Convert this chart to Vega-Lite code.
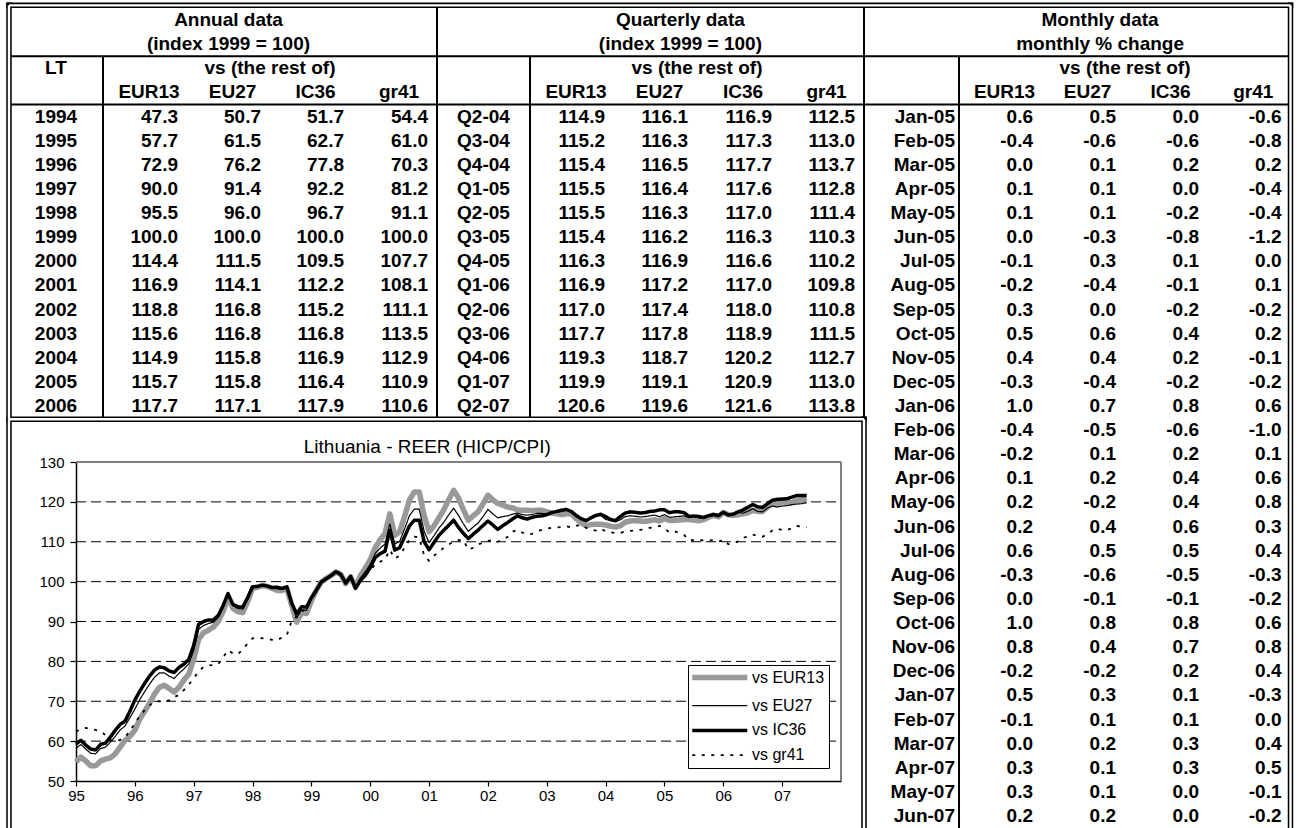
{
"$schema": "https://vega.github.io/schema/vega-lite/v6.json",
"width": 1297, "height": 828, "padding": 0,
"autosize": {"type": "none"},
"background": "white",
"config": {"view": {"stroke": null}, "font": "Liberation Sans"},
"datasets": {
"rules1": [
{"c1":0,"c2":15,"r1":1.5,"r2":1.5},
{"c1":0,"c2":15,"r1":3.5,"r2":3.5},
{"c1":1,"c2":1,"r1":1.5,"r2":16.55},
{"c1":5,"c2":5,"r1":-0.61,"r2":16.55},
{"c1":6,"c2":6,"r1":1.5,"r2":16.55},
{"c1":10,"c2":10,"r1":-0.61,"r2":16.55},
{"c1":11,"c2":11,"r1":1.5,"r2":34}
],
"rules2": [
{"c1":0,"c2":15,"r1":-0.61,"r2":-0.61},
{"c1":0,"c2":0,"r1":-0.61,"r2":34},
{"c1":15,"c2":15,"r1":-0.61,"r2":34},
{"c1":0,"c2":10,"r1":16.55,"r2":16.55},
{"c1":10,"c2":10,"r1":16.55,"r2":34}
],
"titles": [
{"r":0,"c":2.5,"t":"Annual data"},{"r":1,"c":2.5,"t":"(index 1999 = 100)"},
{"r":0,"c":7.8,"t":"Quarterly data"},{"r":1,"c":7.8,"t":"(index 1999 = 100)"},
{"r":0,"c":12.7,"t":"Monthly data"},{"r":1,"c":12.7,"t":"monthly % change"},
{"r":2,"c":0.5,"t":"LT"},
{"r":2,"c":3,"t":"vs (the rest of)"},{"r":2,"c":8,"t":"vs (the rest of)"},{"r":2,"c":13,"t":"vs (the rest of)"}
],
"heads": [
{"r":3,"c":1.5,"t":"EUR13"},{"r":3,"c":2.5,"t":"EU27"},{"r":3,"c":3.5,"t":"IC36"},{"r":3,"c":4.5,"t":"gr41"},
{"r":3,"c":6.5,"t":"EUR13"},{"r":3,"c":7.5,"t":"EU27"},{"r":3,"c":8.5,"t":"IC36"},{"r":3,"c":9.5,"t":"gr41"},
{"r":3,"c":11.5,"t":"EUR13"},{"r":3,"c":12.5,"t":"EU27"},{"r":3,"c":13.5,"t":"IC36"},{"r":3,"c":14.5,"t":"gr41"}
],
"clabs": [
{"r":4,"c":0.5,"t":"1994"},{"r":5,"c":0.5,"t":"1995"},{"r":6,"c":0.5,"t":"1996"},{"r":7,"c":0.5,"t":"1997"},{"r":8,"c":0.5,"t":"1998"},{"r":9,"c":0.5,"t":"1999"},{"r":10,"c":0.5,"t":"2000"},{"r":11,"c":0.5,"t":"2001"},{"r":12,"c":0.5,"t":"2002"},{"r":13,"c":0.5,"t":"2003"},{"r":14,"c":0.5,"t":"2004"},{"r":15,"c":0.5,"t":"2005"},{"r":16,"c":0.5,"t":"2006"},
{"r":4,"c":5.5,"t":"Q2-04"},{"r":5,"c":5.5,"t":"Q3-04"},{"r":6,"c":5.5,"t":"Q4-04"},{"r":7,"c":5.5,"t":"Q1-05"},{"r":8,"c":5.5,"t":"Q2-05"},{"r":9,"c":5.5,"t":"Q3-05"},{"r":10,"c":5.5,"t":"Q4-05"},{"r":11,"c":5.5,"t":"Q1-06"},{"r":12,"c":5.5,"t":"Q2-06"},{"r":13,"c":5.5,"t":"Q3-06"},{"r":14,"c":5.5,"t":"Q4-06"},{"r":15,"c":5.5,"t":"Q1-07"},{"r":16,"c":5.5,"t":"Q2-07"}
],
"rlabs": [
{"r":4,"c":11,"t":"Jan-05"},{"r":5,"c":11,"t":"Feb-05"},{"r":6,"c":11,"t":"Mar-05"},{"r":7,"c":11,"t":"Apr-05"},{"r":8,"c":11,"t":"May-05"},{"r":9,"c":11,"t":"Jun-05"},{"r":10,"c":11,"t":"Jul-05"},{"r":11,"c":11,"t":"Aug-05"},{"r":12,"c":11,"t":"Sep-05"},{"r":13,"c":11,"t":"Oct-05"},{"r":14,"c":11,"t":"Nov-05"},{"r":15,"c":11,"t":"Dec-05"},
{"r":16,"c":11,"t":"Jan-06"},{"r":17,"c":11,"t":"Feb-06"},{"r":18,"c":11,"t":"Mar-06"},{"r":19,"c":11,"t":"Apr-06"},{"r":20,"c":11,"t":"May-06"},{"r":21,"c":11,"t":"Jun-06"},{"r":22,"c":11,"t":"Jul-06"},{"r":23,"c":11,"t":"Aug-06"},{"r":24,"c":11,"t":"Sep-06"},{"r":25,"c":11,"t":"Oct-06"},{"r":26,"c":11,"t":"Nov-06"},{"r":27,"c":11,"t":"Dec-06"},
{"r":28,"c":11,"t":"Jan-07"},{"r":29,"c":11,"t":"Feb-07"},{"r":30,"c":11,"t":"Mar-07"},{"r":31,"c":11,"t":"Apr-07"},{"r":32,"c":11,"t":"May-07"},{"r":33,"c":11,"t":"Jun-07"}
],
"vals": [
{"r":4,"c":2,"t":"47.3"},{"r":4,"c":3,"t":"50.7"},{"r":4,"c":4,"t":"51.7"},{"r":4,"c":5,"t":"54.4"},
{"r":5,"c":2,"t":"57.7"},{"r":5,"c":3,"t":"61.5"},{"r":5,"c":4,"t":"62.7"},{"r":5,"c":5,"t":"61.0"},
{"r":6,"c":2,"t":"72.9"},{"r":6,"c":3,"t":"76.2"},{"r":6,"c":4,"t":"77.8"},{"r":6,"c":5,"t":"70.3"},
{"r":7,"c":2,"t":"90.0"},{"r":7,"c":3,"t":"91.4"},{"r":7,"c":4,"t":"92.2"},{"r":7,"c":5,"t":"81.2"},
{"r":8,"c":2,"t":"95.5"},{"r":8,"c":3,"t":"96.0"},{"r":8,"c":4,"t":"96.7"},{"r":8,"c":5,"t":"91.1"},
{"r":9,"c":2,"t":"100.0"},{"r":9,"c":3,"t":"100.0"},{"r":9,"c":4,"t":"100.0"},{"r":9,"c":5,"t":"100.0"},
{"r":10,"c":2,"t":"114.4"},{"r":10,"c":3,"t":"111.5"},{"r":10,"c":4,"t":"109.5"},{"r":10,"c":5,"t":"107.7"},
{"r":11,"c":2,"t":"116.9"},{"r":11,"c":3,"t":"114.1"},{"r":11,"c":4,"t":"112.2"},{"r":11,"c":5,"t":"108.1"},
{"r":12,"c":2,"t":"118.8"},{"r":12,"c":3,"t":"116.8"},{"r":12,"c":4,"t":"115.2"},{"r":12,"c":5,"t":"111.1"},
{"r":13,"c":2,"t":"115.6"},{"r":13,"c":3,"t":"116.8"},{"r":13,"c":4,"t":"116.8"},{"r":13,"c":5,"t":"113.5"},
{"r":14,"c":2,"t":"114.9"},{"r":14,"c":3,"t":"115.8"},{"r":14,"c":4,"t":"116.9"},{"r":14,"c":5,"t":"112.9"},
{"r":15,"c":2,"t":"115.7"},{"r":15,"c":3,"t":"115.8"},{"r":15,"c":4,"t":"116.4"},{"r":15,"c":5,"t":"110.9"},
{"r":16,"c":2,"t":"117.7"},{"r":16,"c":3,"t":"117.1"},{"r":16,"c":4,"t":"117.9"},{"r":16,"c":5,"t":"110.6"},
{"r":4,"c":7,"t":"114.9"},{"r":4,"c":8,"t":"116.1"},{"r":4,"c":9,"t":"116.9"},{"r":4,"c":10,"t":"112.5"},
{"r":5,"c":7,"t":"115.2"},{"r":5,"c":8,"t":"116.3"},{"r":5,"c":9,"t":"117.3"},{"r":5,"c":10,"t":"113.0"},
{"r":6,"c":7,"t":"115.4"},{"r":6,"c":8,"t":"116.5"},{"r":6,"c":9,"t":"117.7"},{"r":6,"c":10,"t":"113.7"},
{"r":7,"c":7,"t":"115.5"},{"r":7,"c":8,"t":"116.4"},{"r":7,"c":9,"t":"117.6"},{"r":7,"c":10,"t":"112.8"},
{"r":8,"c":7,"t":"115.5"},{"r":8,"c":8,"t":"116.3"},{"r":8,"c":9,"t":"117.0"},{"r":8,"c":10,"t":"111.4"},
{"r":9,"c":7,"t":"115.4"},{"r":9,"c":8,"t":"116.2"},{"r":9,"c":9,"t":"116.3"},{"r":9,"c":10,"t":"110.3"},
{"r":10,"c":7,"t":"116.3"},{"r":10,"c":8,"t":"116.9"},{"r":10,"c":9,"t":"116.6"},{"r":10,"c":10,"t":"110.2"},
{"r":11,"c":7,"t":"116.9"},{"r":11,"c":8,"t":"117.2"},{"r":11,"c":9,"t":"117.0"},{"r":11,"c":10,"t":"109.8"},
{"r":12,"c":7,"t":"117.0"},{"r":12,"c":8,"t":"117.4"},{"r":12,"c":9,"t":"118.0"},{"r":12,"c":10,"t":"110.8"},
{"r":13,"c":7,"t":"117.7"},{"r":13,"c":8,"t":"117.8"},{"r":13,"c":9,"t":"118.9"},{"r":13,"c":10,"t":"111.5"},
{"r":14,"c":7,"t":"119.3"},{"r":14,"c":8,"t":"118.7"},{"r":14,"c":9,"t":"120.2"},{"r":14,"c":10,"t":"112.7"},
{"r":15,"c":7,"t":"119.9"},{"r":15,"c":8,"t":"119.1"},{"r":15,"c":9,"t":"120.9"},{"r":15,"c":10,"t":"113.0"},
{"r":16,"c":7,"t":"120.6"},{"r":16,"c":8,"t":"119.6"},{"r":16,"c":9,"t":"121.6"},{"r":16,"c":10,"t":"113.8"},
{"r":4,"c":12,"t":"0.6"},{"r":4,"c":13,"t":"0.5"},{"r":4,"c":14,"t":"0.0"},{"r":4,"c":15,"t":"-0.6"},
{"r":5,"c":12,"t":"-0.4"},{"r":5,"c":13,"t":"-0.6"},{"r":5,"c":14,"t":"-0.6"},{"r":5,"c":15,"t":"-0.8"},
{"r":6,"c":12,"t":"0.0"},{"r":6,"c":13,"t":"0.1"},{"r":6,"c":14,"t":"0.2"},{"r":6,"c":15,"t":"0.2"},
{"r":7,"c":12,"t":"0.1"},{"r":7,"c":13,"t":"0.1"},{"r":7,"c":14,"t":"0.0"},{"r":7,"c":15,"t":"-0.4"},
{"r":8,"c":12,"t":"0.1"},{"r":8,"c":13,"t":"0.1"},{"r":8,"c":14,"t":"-0.2"},{"r":8,"c":15,"t":"-0.4"},
{"r":9,"c":12,"t":"0.0"},{"r":9,"c":13,"t":"-0.3"},{"r":9,"c":14,"t":"-0.8"},{"r":9,"c":15,"t":"-1.2"},
{"r":10,"c":12,"t":"-0.1"},{"r":10,"c":13,"t":"0.3"},{"r":10,"c":14,"t":"0.1"},{"r":10,"c":15,"t":"0.0"},
{"r":11,"c":12,"t":"-0.2"},{"r":11,"c":13,"t":"-0.4"},{"r":11,"c":14,"t":"-0.1"},{"r":11,"c":15,"t":"0.1"},
{"r":12,"c":12,"t":"0.3"},{"r":12,"c":13,"t":"0.0"},{"r":12,"c":14,"t":"-0.2"},{"r":12,"c":15,"t":"-0.2"},
{"r":13,"c":12,"t":"0.5"},{"r":13,"c":13,"t":"0.6"},{"r":13,"c":14,"t":"0.4"},{"r":13,"c":15,"t":"0.2"},
{"r":14,"c":12,"t":"0.4"},{"r":14,"c":13,"t":"0.4"},{"r":14,"c":14,"t":"0.2"},{"r":14,"c":15,"t":"-0.1"},
{"r":15,"c":12,"t":"-0.3"},{"r":15,"c":13,"t":"-0.4"},{"r":15,"c":14,"t":"-0.2"},{"r":15,"c":15,"t":"-0.2"},
{"r":16,"c":12,"t":"1.0"},{"r":16,"c":13,"t":"0.7"},{"r":16,"c":14,"t":"0.8"},{"r":16,"c":15,"t":"0.6"},
{"r":17,"c":12,"t":"-0.4"},{"r":17,"c":13,"t":"-0.5"},{"r":17,"c":14,"t":"-0.6"},{"r":17,"c":15,"t":"-1.0"},
{"r":18,"c":12,"t":"-0.2"},{"r":18,"c":13,"t":"0.1"},{"r":18,"c":14,"t":"0.2"},{"r":18,"c":15,"t":"0.1"},
{"r":19,"c":12,"t":"0.1"},{"r":19,"c":13,"t":"0.2"},{"r":19,"c":14,"t":"0.4"},{"r":19,"c":15,"t":"0.6"},
{"r":20,"c":12,"t":"0.2"},{"r":20,"c":13,"t":"-0.2"},{"r":20,"c":14,"t":"0.4"},{"r":20,"c":15,"t":"0.8"},
{"r":21,"c":12,"t":"0.2"},{"r":21,"c":13,"t":"0.4"},{"r":21,"c":14,"t":"0.6"},{"r":21,"c":15,"t":"0.3"},
{"r":22,"c":12,"t":"0.6"},{"r":22,"c":13,"t":"0.5"},{"r":22,"c":14,"t":"0.5"},{"r":22,"c":15,"t":"0.4"},
{"r":23,"c":12,"t":"-0.3"},{"r":23,"c":13,"t":"-0.6"},{"r":23,"c":14,"t":"-0.5"},{"r":23,"c":15,"t":"-0.3"},
{"r":24,"c":12,"t":"0.0"},{"r":24,"c":13,"t":"-0.1"},{"r":24,"c":14,"t":"-0.1"},{"r":24,"c":15,"t":"-0.2"},
{"r":25,"c":12,"t":"1.0"},{"r":25,"c":13,"t":"0.8"},{"r":25,"c":14,"t":"0.8"},{"r":25,"c":15,"t":"0.6"},
{"r":26,"c":12,"t":"0.8"},{"r":26,"c":13,"t":"0.4"},{"r":26,"c":14,"t":"0.7"},{"r":26,"c":15,"t":"0.8"},
{"r":27,"c":12,"t":"-0.2"},{"r":27,"c":13,"t":"-0.2"},{"r":27,"c":14,"t":"0.2"},{"r":27,"c":15,"t":"0.4"},
{"r":28,"c":12,"t":"0.5"},{"r":28,"c":13,"t":"0.3"},{"r":28,"c":14,"t":"0.1"},{"r":28,"c":15,"t":"-0.3"},
{"r":29,"c":12,"t":"-0.1"},{"r":29,"c":13,"t":"0.1"},{"r":29,"c":14,"t":"0.1"},{"r":29,"c":15,"t":"0.0"},
{"r":30,"c":12,"t":"0.0"},{"r":30,"c":13,"t":"0.2"},{"r":30,"c":14,"t":"0.3"},{"r":30,"c":15,"t":"0.4"},
{"r":31,"c":12,"t":"0.3"},{"r":31,"c":13,"t":"0.1"},{"r":31,"c":14,"t":"0.3"},{"r":31,"c":15,"t":"0.5"},
{"r":32,"c":12,"t":"0.3"},{"r":32,"c":13,"t":"0.1"},{"r":32,"c":14,"t":"0.0"},{"r":32,"c":15,"t":"-0.1"},
{"r":33,"c":12,"t":"0.2"},{"r":33,"c":13,"t":"0.2"},{"r":33,"c":14,"t":"0.0"},{"r":33,"c":15,"t":"-0.2"}
],
"reer": [
{"t":1995.000,"EUR13":54.8,"EU27":58.2,"IC36":59.3,"gr41":62.4},
{"t":1995.083,"EUR13":56.0,"EU27":59.15,"IC36":60.2,"gr41":63.0},
{"t":1995.167,"EUR13":55.0,"EU27":58.0,"IC36":59.0,"gr41":63.3},
{"t":1995.250,"EUR13":53.8,"EU27":56.95,"IC36":58.0,"gr41":63.0},
{"t":1995.333,"EUR13":53.8,"EU27":56.8,"IC36":57.8,"gr41":62.8},
{"t":1995.417,"EUR13":55.0,"EU27":58.15,"IC36":59.2,"gr41":62.5},
{"t":1995.500,"EUR13":55.5,"EU27":58.5,"IC36":59.5,"gr41":61.5},
{"t":1995.583,"EUR13":55.8,"EU27":59.7,"IC36":61.0,"gr41":60.3},
{"t":1995.667,"EUR13":56.8,"EU27":61.2,"IC36":62.7,"gr41":59.8},
{"t":1995.750,"EUR13":58.5,"EU27":62.8,"IC36":64.2,"gr41":60.3},
{"t":1995.833,"EUR13":60.2,"EU27":63.8,"IC36":65.0,"gr41":61.0},
{"t":1995.917,"EUR13":61.2,"EU27":65.9,"IC36":67.5,"gr41":62.5},
{"t":1996.000,"EUR13":62.7,"EU27":68.0,"IC36":70.3,"gr41":64.5},
{"t":1996.083,"EUR13":65.5,"EU27":70.4,"IC36":72.5,"gr41":66.2},
{"t":1996.167,"EUR13":67.5,"EU27":72.4,"IC36":74.5,"gr41":67.8},
{"t":1996.250,"EUR13":69.5,"EU27":74.3,"IC36":76.3,"gr41":69.0},
{"t":1996.333,"EUR13":71.8,"EU27":76.0,"IC36":77.8,"gr41":69.9},
{"t":1996.417,"EUR13":73.5,"EU27":77.1,"IC36":78.6,"gr41":70.0},
{"t":1996.500,"EUR13":74.0,"EU27":77.1,"IC36":78.4,"gr41":69.9},
{"t":1996.583,"EUR13":73.2,"EU27":76.3,"IC36":77.6,"gr41":70.2},
{"t":1996.667,"EUR13":72.3,"EU27":75.7,"IC36":77.2,"gr41":71.0},
{"t":1996.750,"EUR13":73.5,"EU27":77.0,"IC36":78.5,"gr41":71.6},
{"t":1996.833,"EUR13":75.3,"EU27":78.1,"IC36":79.3,"gr41":72.8},
{"t":1996.917,"EUR13":76.8,"EU27":79.4,"IC36":80.5,"gr41":74.2},
{"t":1997.000,"EUR13":80.5,"EU27":82.8,"IC36":84.0,"gr41":75.7},
{"t":1997.083,"EUR13":85.5,"EU27":88.0,"IC36":89.3,"gr41":77.5},
{"t":1997.167,"EUR13":87.2,"EU27":89.0,"IC36":90.0,"gr41":78.6},
{"t":1997.250,"EUR13":87.8,"EU27":89.5,"IC36":90.4,"gr41":79.0},
{"t":1997.333,"EUR13":88.6,"EU27":89.8,"IC36":90.4,"gr41":79.1},
{"t":1997.417,"EUR13":90.0,"EU27":91.0,"IC36":91.5,"gr41":79.3},
{"t":1997.500,"EUR13":92.5,"EU27":93.5,"IC36":94.0,"gr41":81.0},
{"t":1997.583,"EUR13":96.0,"EU27":96.65,"IC36":97.0,"gr41":82.8},
{"t":1997.667,"EUR13":93.3,"EU27":93.95,"IC36":94.3,"gr41":82.0},
{"t":1997.750,"EUR13":92.5,"EU27":93.3,"IC36":93.7,"gr41":81.8},
{"t":1997.833,"EUR13":92.2,"EU27":93.1,"IC36":93.6,"gr41":83.0},
{"t":1997.917,"EUR13":95.0,"EU27":95.65,"IC36":96.0,"gr41":84.5},
{"t":1998.000,"EUR13":98.3,"EU27":98.5,"IC36":98.7,"gr41":85.8},
{"t":1998.083,"EUR13":98.6,"EU27":98.7,"IC36":98.8,"gr41":85.9},
{"t":1998.167,"EUR13":99.0,"EU27":99.05,"IC36":99.1,"gr41":85.8},
{"t":1998.250,"EUR13":98.8,"EU27":98.85,"IC36":98.9,"gr41":85.7},
{"t":1998.333,"EUR13":98.3,"EU27":98.4,"IC36":98.5,"gr41":85.4},
{"t":1998.417,"EUR13":97.8,"EU27":98.2,"IC36":98.6,"gr41":85.3},
{"t":1998.500,"EUR13":97.8,"EU27":98.05,"IC36":98.3,"gr41":86.0},
{"t":1998.583,"EUR13":98.3,"EU27":98.5,"IC36":98.7,"gr41":86.6},
{"t":1998.667,"EUR13":94.0,"EU27":94.25,"IC36":94.5,"gr41":90.3},
{"t":1998.750,"EUR13":89.8,"EU27":90.9,"IC36":92.0,"gr41":91.2},
{"t":1998.833,"EUR13":92.2,"EU27":92.95,"IC36":93.7,"gr41":92.5},
{"t":1998.917,"EUR13":92.0,"EU27":92.8,"IC36":93.6,"gr41":93.2},
{"t":1999.000,"EUR13":95.2,"EU27":95.6,"IC36":96.0,"gr41":95.5},
{"t":1999.083,"EUR13":97.8,"EU27":97.8,"IC36":97.8,"gr41":97.5},
{"t":1999.167,"EUR13":99.9,"EU27":99.9,"IC36":99.9,"gr41":99.5},
{"t":1999.250,"EUR13":100.8,"EU27":100.75,"IC36":100.7,"gr41":100.5},
{"t":1999.333,"EUR13":101.5,"EU27":101.5,"IC36":101.5,"gr41":101.5},
{"t":1999.417,"EUR13":102.4,"EU27":102.45,"IC36":102.5,"gr41":102.0},
{"t":1999.500,"EUR13":101.8,"EU27":101.8,"IC36":101.8,"gr41":101.5},
{"t":1999.583,"EUR13":99.5,"EU27":99.55,"IC36":99.6,"gr41":100.0},
{"t":1999.667,"EUR13":101.2,"EU27":101.25,"IC36":101.3,"gr41":100.8},
{"t":1999.750,"EUR13":98.7,"EU27":98.5,"IC36":98.3,"gr41":99.0},
{"t":1999.833,"EUR13":101.5,"EU27":100.9,"IC36":100.3,"gr41":100.5},
{"t":1999.917,"EUR13":103.4,"EU27":102.5,"IC36":101.6,"gr41":101.5},
{"t":2000.000,"EUR13":105.5,"EU27":104.3,"IC36":103.5,"gr41":102.8},
{"t":2000.083,"EUR13":108.5,"EU27":107.0,"IC36":106.0,"gr41":104.3},
{"t":2000.167,"EUR13":110.5,"EU27":108.4,"IC36":107.0,"gr41":105.0},
{"t":2000.250,"EUR13":112.0,"EU27":109.4,"IC36":107.6,"gr41":105.5},
{"t":2000.333,"EUR13":117.0,"EU27":114.5,"IC36":112.9,"gr41":108.0},
{"t":2000.417,"EUR13":111.6,"EU27":109.4,"IC36":107.9,"gr41":105.8},
{"t":2000.500,"EUR13":112.5,"EU27":110.1,"IC36":108.5,"gr41":106.5},
{"t":2000.583,"EUR13":116.3,"EU27":113.2,"IC36":111.2,"gr41":108.5},
{"t":2000.667,"EUR13":120.5,"EU27":116.6,"IC36":114.0,"gr41":110.5},
{"t":2000.750,"EUR13":122.5,"EU27":118.2,"IC36":115.4,"gr41":111.3},
{"t":2000.833,"EUR13":122.5,"EU27":118.2,"IC36":115.4,"gr41":111.0},
{"t":2000.917,"EUR13":116.5,"EU27":112.6,"IC36":110.0,"gr41":106.5},
{"t":2001.000,"EUR13":112.5,"EU27":109.8,"IC36":108.0,"gr41":105.2},
{"t":2001.083,"EUR13":114.0,"EU27":111.5,"IC36":109.8,"gr41":106.5},
{"t":2001.167,"EUR13":116.0,"EU27":113.4,"IC36":111.6,"gr41":107.5},
{"t":2001.250,"EUR13":118.0,"EU27":114.9,"IC36":112.9,"gr41":108.5},
{"t":2001.333,"EUR13":120.5,"EU27":116.7,"IC36":114.1,"gr41":109.3},
{"t":2001.417,"EUR13":122.9,"EU27":118.4,"IC36":115.4,"gr41":110.0},
{"t":2001.500,"EUR13":121.0,"EU27":116.6,"IC36":113.6,"gr41":110.4},
{"t":2001.583,"EUR13":118.0,"EU27":114.5,"IC36":112.1,"gr41":110.4},
{"t":2001.667,"EUR13":115.4,"EU27":112.6,"IC36":110.8,"gr41":108.0},
{"t":2001.750,"EUR13":116.5,"EU27":113.7,"IC36":111.9,"gr41":108.5},
{"t":2001.833,"EUR13":117.5,"EU27":114.7,"IC36":112.9,"gr41":109.3},
{"t":2001.917,"EUR13":119.5,"EU27":116.3,"IC36":114.1,"gr41":109.8},
{"t":2002.000,"EUR13":121.7,"EU27":118.1,"IC36":115.2,"gr41":110.2},
{"t":2002.083,"EUR13":120.5,"EU27":117.0,"IC36":114.2,"gr41":110.4},
{"t":2002.167,"EUR13":119.6,"EU27":116.0,"IC36":113.1,"gr41":110.0},
{"t":2002.250,"EUR13":119.2,"EU27":116.3,"IC36":114.0,"gr41":110.6},
{"t":2002.333,"EUR13":118.7,"EU27":116.5,"IC36":114.8,"gr41":111.2},
{"t":2002.417,"EUR13":118.5,"EU27":116.9,"IC36":115.7,"gr41":112.5},
{"t":2002.500,"EUR13":118.0,"EU27":117.2,"IC36":116.5,"gr41":113.0},
{"t":2002.583,"EUR13":117.9,"EU27":116.8,"IC36":116.0,"gr41":112.3},
{"t":2002.667,"EUR13":117.9,"EU27":116.7,"IC36":115.7,"gr41":111.8},
{"t":2002.750,"EUR13":117.8,"EU27":116.8,"IC36":116.1,"gr41":112.0},
{"t":2002.833,"EUR13":117.9,"EU27":117.1,"IC36":116.4,"gr41":112.6},
{"t":2002.917,"EUR13":117.9,"EU27":117.1,"IC36":116.5,"gr41":113.0},
{"t":2003.000,"EUR13":117.5,"EU27":116.9,"IC36":116.8,"gr41":113.3},
{"t":2003.083,"EUR13":117.2,"EU27":117.2,"IC36":117.3,"gr41":113.5},
{"t":2003.167,"EUR13":117.0,"EU27":117.5,"IC36":117.6,"gr41":113.6},
{"t":2003.250,"EUR13":116.8,"EU27":117.7,"IC36":117.9,"gr41":113.7},
{"t":2003.333,"EUR13":117.0,"EU27":117.9,"IC36":118.1,"gr41":113.9},
{"t":2003.417,"EUR13":117.0,"EU27":117.5,"IC36":117.6,"gr41":113.6},
{"t":2003.500,"EUR13":115.8,"EU27":116.5,"IC36":116.6,"gr41":114.0},
{"t":2003.583,"EUR13":114.8,"EU27":115.6,"IC36":115.8,"gr41":114.3},
{"t":2003.667,"EUR13":114.0,"EU27":115.1,"IC36":115.3,"gr41":113.5},
{"t":2003.750,"EUR13":114.3,"EU27":115.8,"IC36":116.0,"gr41":113.0},
{"t":2003.833,"EUR13":114.4,"EU27":116.3,"IC36":116.6,"gr41":112.8},
{"t":2003.917,"EUR13":114.4,"EU27":116.6,"IC36":116.9,"gr41":113.3},
{"t":2004.000,"EUR13":114.2,"EU27":115.6,"IC36":116.3,"gr41":112.6},
{"t":2004.083,"EUR13":113.9,"EU27":115.3,"IC36":115.6,"gr41":112.4},
{"t":2004.167,"EUR13":113.7,"EU27":115.0,"IC36":115.3,"gr41":112.2},
{"t":2004.250,"EUR13":114.0,"EU27":115.5,"IC36":116.3,"gr41":112.2},
{"t":2004.333,"EUR13":114.9,"EU27":116.3,"IC36":117.2,"gr41":112.6},
{"t":2004.417,"EUR13":115.2,"EU27":116.5,"IC36":117.5,"gr41":112.7},
{"t":2004.500,"EUR13":115.3,"EU27":116.4,"IC36":117.4,"gr41":112.9},
{"t":2004.583,"EUR13":115.2,"EU27":116.2,"IC36":117.2,"gr41":113.0},
{"t":2004.667,"EUR13":115.1,"EU27":116.3,"IC36":117.3,"gr41":113.1},
{"t":2004.750,"EUR13":115.3,"EU27":116.5,"IC36":117.6,"gr41":113.5},
{"t":2004.833,"EUR13":115.5,"EU27":116.7,"IC36":117.7,"gr41":113.6},
{"t":2004.917,"EUR13":115.2,"EU27":116.25,"IC36":118.0,"gr41":114.0},
{"t":2005.000,"EUR13":115.8,"EU27":116.83,"IC36":118.0,"gr41":113.3},
{"t":2005.083,"EUR13":115.35,"EU27":116.13,"IC36":117.3,"gr41":112.4},
{"t":2005.167,"EUR13":115.35,"EU27":116.25,"IC36":117.5,"gr41":112.65},
{"t":2005.250,"EUR13":115.45,"EU27":116.37,"IC36":117.5,"gr41":112.2},
{"t":2005.333,"EUR13":115.55,"EU27":116.48,"IC36":117.3,"gr41":111.75},
{"t":2005.417,"EUR13":115.55,"EU27":116.13,"IC36":116.35,"gr41":110.4},
{"t":2005.500,"EUR13":115.45,"EU27":116.48,"IC36":116.45,"gr41":110.4},
{"t":2005.583,"EUR13":115.25,"EU27":116.01,"IC36":116.35,"gr41":110.5},
{"t":2005.667,"EUR13":115.55,"EU27":116.01,"IC36":116.1,"gr41":110.3},
{"t":2005.750,"EUR13":116.15,"EU27":116.71,"IC36":116.55,"gr41":110.45},
{"t":2005.833,"EUR13":116.6,"EU27":117.18,"IC36":116.8,"gr41":110.3},
{"t":2005.917,"EUR13":116.25,"EU27":116.71,"IC36":116.55,"gr41":110.0},
{"t":2006.000,"EUR13":117.3,"EU27":117.53,"IC36":117.4,"gr41":110.5},
{"t":2006.083,"EUR13":116.8,"EU27":116.94,"IC36":116.7,"gr41":109.4},
{"t":2006.167,"EUR13":116.6,"EU27":117.06,"IC36":116.9,"gr41":109.5},
{"t":2006.250,"EUR13":116.75,"EU27":117.4,"IC36":117.5,"gr41":110.1},
{"t":2006.333,"EUR13":117.0,"EU27":117.15,"IC36":117.95,"gr41":111.0},
{"t":2006.417,"EUR13":117.25,"EU27":117.65,"IC36":118.65,"gr41":111.3},
{"t":2006.500,"EUR13":117.9,"EU27":118.3,"IC36":119.35,"gr41":111.8},
{"t":2006.583,"EUR13":117.6,"EU27":117.6,"IC36":118.75,"gr41":111.45},
{"t":2006.667,"EUR13":117.6,"EU27":117.5,"IC36":118.6,"gr41":111.25},
{"t":2006.750,"EUR13":118.75,"EU27":118.45,"IC36":119.55,"gr41":111.9},
{"t":2006.833,"EUR13":119.7,"EU27":118.95,"IC36":120.4,"gr41":112.8},
{"t":2006.917,"EUR13":119.45,"EU27":118.7,"IC36":120.65,"gr41":113.3},
{"t":2007.000,"EUR13":120.0,"EU27":118.95,"IC36":120.7,"gr41":112.95},
{"t":2007.083,"EUR13":119.85,"EU27":119.05,"IC36":120.8,"gr41":112.95},
{"t":2007.167,"EUR13":119.85,"EU27":119.3,"IC36":121.2,"gr41":113.4},
{"t":2007.250,"EUR13":120.3,"EU27":119.45,"IC36":121.6,"gr41":113.95},
{"t":2007.333,"EUR13":120.65,"EU27":119.55,"IC36":121.6,"gr41":113.8},
{"t":2007.417,"EUR13":120.9,"EU27":119.8,"IC36":121.6,"gr41":113.6}
]
},
"layer": [
{"layer": [
{"data": {"name": "rules1"},
 "mark": {"type": "rule", "stroke": "black", "strokeWidth": 2},
 "encoding": {
  "x": {"field": "c1", "type": "quantitative", "axis": null, "scale": {"domain": [0,1,2,3,4,5,6,7,8,9,10,11,12,13,14,15], "range": [9,103,187,270,353,437,530,614,697,781,864,959,1042,1125,1208,1290.5], "nice": false, "zero": false}},
  "x2": {"field": "c2"},
  "y": {"field": "r1", "type": "quantitative", "axis": null, "scale": {"domain": [0,34], "range": [20.06,840.14], "nice": false, "zero": false}},
  "y2": {"field": "r2"}
 }},
{"data": {"name": "rules2"},
 "mark": {"type": "rule", "stroke": "black", "strokeWidth": 5.5, "strokeCap": "square"},
 "encoding": {
  "x": {"field": "c1", "type": "quantitative", "axis": null},
  "x2": {"field": "c2"},
  "y": {"field": "r1", "type": "quantitative", "axis": null},
  "y2": {"field": "r2"}
 }},
{"data": {"name": "rules2"},
 "mark": {"type": "rule", "stroke": "white", "strokeWidth": 2.4},
 "encoding": {
  "x": {"field": "c1", "type": "quantitative", "axis": null},
  "x2": {"field": "c2"},
  "y": {"field": "r1", "type": "quantitative", "axis": null},
  "y2": {"field": "r2"}
 }},
{"data": {"name": "vals"},
 "mark": {"type": "text", "align": "right", "baseline": "middle", "dx": -9, "fontSize": 19, "fontWeight": "bold", "color": "black"},
 "encoding": {
  "x": {"field": "c", "type": "quantitative", "axis": null},
  "y": {"field": "r", "type": "quantitative", "axis": null},
  "text": {"field": "t"}
 }},
{"data": {"name": "clabs"},
 "mark": {"type": "text", "align": "center", "baseline": "middle", "fontSize": 19, "fontWeight": "bold", "color": "black"},
 "encoding": {
  "x": {"field": "c", "type": "quantitative", "axis": null},
  "y": {"field": "r", "type": "quantitative", "axis": null},
  "text": {"field": "t"}
 }},
{"data": {"name": "rlabs"},
 "mark": {"type": "text", "align": "right", "baseline": "middle", "dx": -4, "fontSize": 19, "fontWeight": "bold", "color": "black"},
 "encoding": {
  "x": {"field": "c", "type": "quantitative", "axis": null},
  "y": {"field": "r", "type": "quantitative", "axis": null},
  "text": {"field": "t"}
 }},
{"data": {"name": "heads"},
 "mark": {"type": "text", "align": "center", "baseline": "middle", "dx": 4, "fontSize": 19, "fontWeight": "bold", "color": "black"},
 "encoding": {
  "x": {"field": "c", "type": "quantitative", "axis": null},
  "y": {"field": "r", "type": "quantitative", "axis": null},
  "text": {"field": "t"}
 }},
{"data": {"name": "titles"},
 "mark": {"type": "text", "align": "center", "baseline": "middle", "fontSize": 19, "fontWeight": "bold", "color": "black"},
 "encoding": {
  "x": {"field": "c", "type": "quantitative", "axis": null},
  "y": {"field": "r", "type": "quantitative", "axis": null},
  "text": {"field": "t"}
 }}
]},
{"layer": [
{"data": {"values": [{"g":60},{"g":70},{"g":80},{"g":90},{"g":100},{"g":110},{"g":120}]},
 "mark": {"type": "rule", "stroke": "black", "strokeWidth": 1, "strokeDash": [10,5]},
 "encoding": {
  "y": {"field": "g", "type": "quantitative",
        "scale": {"domain": [50,130], "range": [781,462], "nice": false, "zero": false},
        "axis": {"orient": "left", "offset": -76, "values": [50,60,70,80,90,100,110,120,130], "title": null, "grid": false, "domainColor": "black", "domainWidth": 1.5, "tickColor": "black", "tickWidth": 1.2, "tickSize": 6, "labelPadding": 6, "labelFontSize": 15, "labelColor": "black"}},
  "x": {"datum": 1995, "type": "quantitative",
        "scale": {"domain": [1995,2008], "range": [76,841], "nice": false, "zero": false},
        "axis": {"orient": "bottom", "offset": -47, "values": [1995,1996,1997,1998,1999,2000,2001,2002,2003,2004,2005,2006,2007], "labelExpr": "slice(toString(datum.value), 2)", "title": null, "grid": false, "domainColor": "black", "domainWidth": 1.5, "tickColor": "black", "tickWidth": 1.2, "tickSize": 5, "labelPadding": 2, "labelFontSize": 15, "labelColor": "black", "labelFlush": false, "labelOverlap": false}},
  "x2": {"datum": 2008}
 }},
{"data": {"values": [{}]},
 "mark": {"type": "rule", "stroke": "#808080", "strokeWidth": 2},
 "encoding": {
  "x": {"datum": 1995, "type": "quantitative"},
  "x2": {"datum": 2008},
  "y": {"datum": 130, "type": "quantitative"}
 }},
{"data": {"values": [{}]},
 "mark": {"type": "rule", "stroke": "#808080", "strokeWidth": 2},
 "encoding": {
  "x": {"datum": 2008, "type": "quantitative"},
  "y": {"datum": 50, "type": "quantitative"},
  "y2": {"datum": 130}
 }},
{"data": {"name": "reer"},
 "transform": [{"fold": ["EUR13","EU27","IC36","gr41"], "as": ["series","value"]}],
 "mark": {"type": "line", "strokeJoin": "round"},
 "encoding": {
  "x": {"field": "t", "type": "quantitative"},
  "y": {"field": "value", "type": "quantitative"},
  "color": {"field": "series", "type": "nominal",
    "scale": {"domain": ["EUR13","EU27","IC36","gr41"], "range": ["#999999","#000000","#000000","#000000"]},
    "legend": {"title": null, "orient": "none", "legendX": 688, "legendY": 665, "direction": "vertical", "symbolType": "M-1.5,0H8.5", "symbolSize": 121, "labelFontSize": 16, "labelColor": "black", "labelOffset": 43, "padding": 4, "rowPadding": 8.7, "strokeColor": "black", "fillColor": "white", "labelExpr": "'vs ' + datum.label"}},
  "strokeWidth": {"field": "series", "type": "nominal",
    "scale": {"type": "ordinal", "domain": ["EUR13","EU27","IC36","gr41"], "range": [5.5,1.2,3.5,1.8]}},
  "strokeDash": {"field": "series", "type": "nominal",
    "scale": {"domain": ["EUR13","EU27","IC36","gr41"], "range": [[1,0],[1,0],[1,0],[3,6.5]]}}
 }},
{"data": {"values": [{"title": "Lithuania - REER (HICP/CPI)"}]},
 "mark": {"type": "text", "align": "center", "baseline": "middle", "fontSize": 19, "color": "black"},
 "encoding": {
  "x": {"datum": 2000.97, "type": "quantitative"},
  "y": {"datum": 133.7, "type": "quantitative"},
  "text": {"field": "title"}
 }}
]}
],
"resolve": {"scale": {"x": "independent", "y": "independent"}}
}
